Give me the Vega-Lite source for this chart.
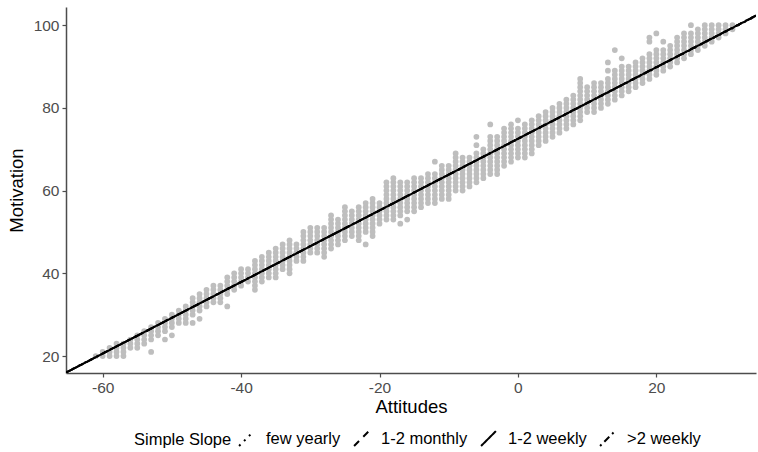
{
  "$schema": "https://vega.github.io/schema/vega-lite/v6.json",
  "width": 690,
  "height": 366,
  "autosize": {"type": "none"},
  "padding": {"left": 66, "top": 7, "right": 2, "bottom": 79},
  "background": "white",
  "config": {
    "view": {"stroke": null},
    "font": "Liberation Sans",
    "axis": {
      "grid": false,
      "domainColor": "#4D4D4D",
      "domainWidth": 1.5,
      "tickColor": "#4D4D4D",
      "tickWidth": 1.2,
      "tickSize": 4,
      "labelFont": "Liberation Sans",
      "labelFontSize": 15.5,
      "labelColor": "#4D4D4D",
      "titleFont": "Liberation Sans",
      "titleFontSize": 18.5,
      "titleFontWeight": "normal",
      "titleColor": "black"
    }
  },
  "datasets": {
    "pts": [
      {"x":-61,"y":20},
      {"x":-60,"y":20},{"x":-60,"y":21},
      {"x":-59,"y":20},{"x":-59,"y":21},{"x":-59,"y":22},
      {"x":-58,"y":20},{"x":-58,"y":21},{"x":-58,"y":22},{"x":-58,"y":23},
      {"x":-57,"y":20},{"x":-57,"y":21},{"x":-57,"y":22},{"x":-57,"y":23},
      {"x":-56,"y":22},{"x":-56,"y":23},{"x":-56,"y":24},
      {"x":-55,"y":22},{"x":-55,"y":23},{"x":-55,"y":24},{"x":-55,"y":25},
      {"x":-54,"y":23},{"x":-54,"y":24},{"x":-54,"y":25},{"x":-54,"y":26},
      {"x":-53,"y":21},{"x":-53,"y":24},{"x":-53,"y":25},{"x":-53,"y":26},{"x":-53,"y":27},
      {"x":-52,"y":25},{"x":-52,"y":26},{"x":-52,"y":27},{"x":-52,"y":28},
      {"x":-51,"y":24},{"x":-51,"y":26},{"x":-51,"y":27},{"x":-51,"y":28},{"x":-51,"y":29},
      {"x":-50,"y":25},{"x":-50,"y":27},{"x":-50,"y":28},{"x":-50,"y":29},{"x":-50,"y":30},
      {"x":-49,"y":28},{"x":-49,"y":29},{"x":-49,"y":30},{"x":-49,"y":31},
      {"x":-48,"y":28},{"x":-48,"y":29},{"x":-48,"y":30},{"x":-48,"y":31},{"x":-48,"y":32},
      {"x":-47,"y":28},{"x":-47,"y":30},{"x":-47,"y":31},{"x":-47,"y":32},{"x":-47,"y":33},{"x":-47,"y":34},
      {"x":-46,"y":29},{"x":-46,"y":31},{"x":-46,"y":32},{"x":-46,"y":33},{"x":-46,"y":34},{"x":-46,"y":35},
      {"x":-45,"y":32},{"x":-45,"y":33},{"x":-45,"y":34},{"x":-45,"y":35},{"x":-45,"y":36},
      {"x":-44,"y":33},{"x":-44,"y":34},{"x":-44,"y":35},{"x":-44,"y":36},{"x":-44,"y":37},
      {"x":-43,"y":33},{"x":-43,"y":34},{"x":-43,"y":35},{"x":-43,"y":36},{"x":-43,"y":37},
      {"x":-42,"y":32},{"x":-42,"y":35},{"x":-42,"y":36},{"x":-42,"y":37},{"x":-42,"y":38},{"x":-42,"y":39},
      {"x":-41,"y":36},{"x":-41,"y":37},{"x":-41,"y":38},{"x":-41,"y":39},{"x":-41,"y":40},
      {"x":-40,"y":37},{"x":-40,"y":38},{"x":-40,"y":39},{"x":-40,"y":40},{"x":-40,"y":41},
      {"x":-39,"y":38},{"x":-39,"y":39},{"x":-39,"y":40},{"x":-39,"y":41},
      {"x":-38,"y":36},{"x":-38,"y":37},{"x":-38,"y":38},{"x":-38,"y":39},{"x":-38,"y":40},{"x":-38,"y":41},{"x":-38,"y":42},{"x":-38,"y":43},
      {"x":-37,"y":38},{"x":-37,"y":39},{"x":-37,"y":40},{"x":-37,"y":41},{"x":-37,"y":42},{"x":-37,"y":43},{"x":-37,"y":44},
      {"x":-36,"y":39},{"x":-36,"y":40},{"x":-36,"y":41},{"x":-36,"y":42},{"x":-36,"y":43},{"x":-36,"y":44},{"x":-36,"y":45},
      {"x":-35,"y":39},{"x":-35,"y":40},{"x":-35,"y":41},{"x":-35,"y":42},{"x":-35,"y":43},{"x":-35,"y":44},{"x":-35,"y":45},{"x":-35,"y":46},
      {"x":-34,"y":41},{"x":-34,"y":42},{"x":-34,"y":43},{"x":-34,"y":44},{"x":-34,"y":45},{"x":-34,"y":46},{"x":-34,"y":47},
      {"x":-33,"y":40},{"x":-33,"y":41},{"x":-33,"y":42},{"x":-33,"y":43},{"x":-33,"y":44},{"x":-33,"y":45},{"x":-33,"y":46},{"x":-33,"y":47},{"x":-33,"y":48},
      {"x":-32,"y":43},{"x":-32,"y":44},{"x":-32,"y":45},{"x":-32,"y":46},{"x":-32,"y":47},
      {"x":-31,"y":43},{"x":-31,"y":44},{"x":-31,"y":45},{"x":-31,"y":46},{"x":-31,"y":47},{"x":-31,"y":48},{"x":-31,"y":49},{"x":-31,"y":50},
      {"x":-30,"y":45},{"x":-30,"y":46},{"x":-30,"y":47},{"x":-30,"y":48},{"x":-30,"y":49},{"x":-30,"y":50},{"x":-30,"y":51},
      {"x":-29,"y":45},{"x":-29,"y":46},{"x":-29,"y":47},{"x":-29,"y":48},{"x":-29,"y":49},{"x":-29,"y":50},{"x":-29,"y":51},
      {"x":-28,"y":44},{"x":-28,"y":45},{"x":-28,"y":46},{"x":-28,"y":47},{"x":-28,"y":48},{"x":-28,"y":49},{"x":-28,"y":50},{"x":-28,"y":51},
      {"x":-27,"y":46},{"x":-27,"y":47},{"x":-27,"y":48},{"x":-27,"y":49},{"x":-27,"y":50},{"x":-27,"y":51},{"x":-27,"y":52},{"x":-27,"y":53},{"x":-27,"y":54},
      {"x":-26,"y":47},{"x":-26,"y":48},{"x":-26,"y":49},{"x":-26,"y":50},{"x":-26,"y":51},{"x":-26,"y":52},{"x":-26,"y":53},
      {"x":-25,"y":48},{"x":-25,"y":49},{"x":-25,"y":50},{"x":-25,"y":51},{"x":-25,"y":52},{"x":-25,"y":53},{"x":-25,"y":54},{"x":-25,"y":55},{"x":-25,"y":56},
      {"x":-24,"y":49},{"x":-24,"y":50},{"x":-24,"y":51},{"x":-24,"y":52},{"x":-24,"y":53},{"x":-24,"y":54},{"x":-24,"y":55},
      {"x":-23,"y":48},{"x":-23,"y":49},{"x":-23,"y":50},{"x":-23,"y":51},{"x":-23,"y":52},{"x":-23,"y":53},{"x":-23,"y":54},{"x":-23,"y":55},{"x":-23,"y":56},
      {"x":-22,"y":47},{"x":-22,"y":50},{"x":-22,"y":51},{"x":-22,"y":52},{"x":-22,"y":53},{"x":-22,"y":54},{"x":-22,"y":55},{"x":-22,"y":56},{"x":-22,"y":57},
      {"x":-21,"y":49},{"x":-21,"y":50},{"x":-21,"y":51},{"x":-21,"y":52},{"x":-21,"y":53},{"x":-21,"y":54},{"x":-21,"y":55},{"x":-21,"y":56},{"x":-21,"y":57},{"x":-21,"y":58},
      {"x":-20,"y":52},{"x":-20,"y":53},{"x":-20,"y":54},{"x":-20,"y":55},{"x":-20,"y":56},{"x":-20,"y":57},
      {"x":-19,"y":53},{"x":-19,"y":54},{"x":-19,"y":55},{"x":-19,"y":56},{"x":-19,"y":57},{"x":-19,"y":58},{"x":-19,"y":59},{"x":-19,"y":60},{"x":-19,"y":61},{"x":-19,"y":62},
      {"x":-18,"y":53},{"x":-18,"y":54},{"x":-18,"y":55},{"x":-18,"y":56},{"x":-18,"y":57},{"x":-18,"y":58},{"x":-18,"y":59},{"x":-18,"y":60},{"x":-18,"y":61},{"x":-18,"y":62},{"x":-18,"y":63},
      {"x":-17,"y":52},{"x":-17,"y":54},{"x":-17,"y":55},{"x":-17,"y":56},{"x":-17,"y":57},{"x":-17,"y":58},{"x":-17,"y":59},{"x":-17,"y":60},{"x":-17,"y":61},{"x":-17,"y":62},
      {"x":-16,"y":53},{"x":-16,"y":55},{"x":-16,"y":56},{"x":-16,"y":57},{"x":-16,"y":58},{"x":-16,"y":59},{"x":-16,"y":60},{"x":-16,"y":61},{"x":-16,"y":62},
      {"x":-15,"y":55},{"x":-15,"y":56},{"x":-15,"y":57},{"x":-15,"y":58},{"x":-15,"y":59},{"x":-15,"y":60},{"x":-15,"y":61},{"x":-15,"y":62},{"x":-15,"y":63},
      {"x":-14,"y":56},{"x":-14,"y":57},{"x":-14,"y":58},{"x":-14,"y":59},{"x":-14,"y":60},{"x":-14,"y":61},{"x":-14,"y":62},{"x":-14,"y":63},
      {"x":-13,"y":57},{"x":-13,"y":58},{"x":-13,"y":59},{"x":-13,"y":60},{"x":-13,"y":61},{"x":-13,"y":62},{"x":-13,"y":63},{"x":-13,"y":64},
      {"x":-12,"y":57},{"x":-12,"y":58},{"x":-12,"y":59},{"x":-12,"y":60},{"x":-12,"y":61},{"x":-12,"y":62},{"x":-12,"y":63},{"x":-12,"y":64},{"x":-12,"y":67},
      {"x":-11,"y":58},{"x":-11,"y":59},{"x":-11,"y":60},{"x":-11,"y":61},{"x":-11,"y":62},{"x":-11,"y":63},{"x":-11,"y":64},{"x":-11,"y":65},{"x":-11,"y":66},
      {"x":-10,"y":58},{"x":-10,"y":59},{"x":-10,"y":60},{"x":-10,"y":61},{"x":-10,"y":62},{"x":-10,"y":63},{"x":-10,"y":64},{"x":-10,"y":65},{"x":-10,"y":66},
      {"x":-9,"y":60},{"x":-9,"y":61},{"x":-9,"y":62},{"x":-9,"y":63},{"x":-9,"y":64},{"x":-9,"y":65},{"x":-9,"y":66},{"x":-9,"y":67},{"x":-9,"y":68},{"x":-9,"y":69},
      {"x":-8,"y":60},{"x":-8,"y":61},{"x":-8,"y":62},{"x":-8,"y":63},{"x":-8,"y":64},{"x":-8,"y":65},{"x":-8,"y":66},{"x":-8,"y":67},{"x":-8,"y":68},
      {"x":-7,"y":61},{"x":-7,"y":62},{"x":-7,"y":63},{"x":-7,"y":64},{"x":-7,"y":65},{"x":-7,"y":66},{"x":-7,"y":67},{"x":-7,"y":68},
      {"x":-6,"y":62},{"x":-6,"y":63},{"x":-6,"y":64},{"x":-6,"y":65},{"x":-6,"y":66},{"x":-6,"y":67},{"x":-6,"y":68},{"x":-6,"y":69},{"x":-6,"y":71},{"x":-6,"y":73},
      {"x":-5,"y":63},{"x":-5,"y":64},{"x":-5,"y":65},{"x":-5,"y":66},{"x":-5,"y":67},{"x":-5,"y":68},{"x":-5,"y":69},{"x":-5,"y":70},
      {"x":-4,"y":64},{"x":-4,"y":65},{"x":-4,"y":66},{"x":-4,"y":67},{"x":-4,"y":68},{"x":-4,"y":69},{"x":-4,"y":70},{"x":-4,"y":71},{"x":-4,"y":72},{"x":-4,"y":73},{"x":-4,"y":76},
      {"x":-3,"y":64},{"x":-3,"y":65},{"x":-3,"y":66},{"x":-3,"y":67},{"x":-3,"y":68},{"x":-3,"y":69},{"x":-3,"y":70},{"x":-3,"y":71},{"x":-3,"y":72},{"x":-3,"y":73},
      {"x":-2,"y":66},{"x":-2,"y":67},{"x":-2,"y":68},{"x":-2,"y":69},{"x":-2,"y":70},{"x":-2,"y":71},{"x":-2,"y":72},{"x":-2,"y":73},{"x":-2,"y":74},{"x":-2,"y":75},
      {"x":-1,"y":67},{"x":-1,"y":68},{"x":-1,"y":69},{"x":-1,"y":70},{"x":-1,"y":71},{"x":-1,"y":72},{"x":-1,"y":73},{"x":-1,"y":74},{"x":-1,"y":75},{"x":-1,"y":76},
      {"x":0,"y":68},{"x":0,"y":69},{"x":0,"y":70},{"x":0,"y":71},{"x":0,"y":72},{"x":0,"y":73},{"x":0,"y":74},{"x":0,"y":75},{"x":0,"y":77},
      {"x":1,"y":68},{"x":1,"y":69},{"x":1,"y":70},{"x":1,"y":71},{"x":1,"y":72},{"x":1,"y":73},{"x":1,"y":74},{"x":1,"y":75},{"x":1,"y":76},
      {"x":2,"y":69},{"x":2,"y":70},{"x":2,"y":71},{"x":2,"y":72},{"x":2,"y":73},{"x":2,"y":74},{"x":2,"y":75},{"x":2,"y":76},{"x":2,"y":77},
      {"x":3,"y":71},{"x":3,"y":72},{"x":3,"y":73},{"x":3,"y":74},{"x":3,"y":75},{"x":3,"y":76},{"x":3,"y":77},{"x":3,"y":78},
      {"x":4,"y":72},{"x":4,"y":73},{"x":4,"y":74},{"x":4,"y":75},{"x":4,"y":76},{"x":4,"y":77},{"x":4,"y":78},{"x":4,"y":79},
      {"x":5,"y":73},{"x":5,"y":74},{"x":5,"y":75},{"x":5,"y":76},{"x":5,"y":77},{"x":5,"y":78},{"x":5,"y":79},{"x":5,"y":80},
      {"x":6,"y":74},{"x":6,"y":75},{"x":6,"y":76},{"x":6,"y":77},{"x":6,"y":78},{"x":6,"y":79},{"x":6,"y":80},{"x":6,"y":81},
      {"x":7,"y":75},{"x":7,"y":76},{"x":7,"y":77},{"x":7,"y":78},{"x":7,"y":79},{"x":7,"y":80},{"x":7,"y":81},{"x":7,"y":82},
      {"x":8,"y":76},{"x":8,"y":77},{"x":8,"y":78},{"x":8,"y":79},{"x":8,"y":80},{"x":8,"y":81},{"x":8,"y":82},{"x":8,"y":83},
      {"x":9,"y":77},{"x":9,"y":78},{"x":9,"y":79},{"x":9,"y":80},{"x":9,"y":81},{"x":9,"y":82},{"x":9,"y":83},{"x":9,"y":84},{"x":9,"y":85},{"x":9,"y":86},{"x":9,"y":87},
      {"x":10,"y":79},{"x":10,"y":80},{"x":10,"y":81},{"x":10,"y":82},{"x":10,"y":83},{"x":10,"y":84},{"x":10,"y":85},
      {"x":11,"y":79},{"x":11,"y":80},{"x":11,"y":81},{"x":11,"y":82},{"x":11,"y":83},{"x":11,"y":84},{"x":11,"y":85},{"x":11,"y":86},
      {"x":12,"y":80},{"x":12,"y":81},{"x":12,"y":82},{"x":12,"y":83},{"x":12,"y":84},{"x":12,"y":85},{"x":12,"y":86},
      {"x":13,"y":81},{"x":13,"y":82},{"x":13,"y":83},{"x":13,"y":84},{"x":13,"y":85},{"x":13,"y":86},{"x":13,"y":87},{"x":13,"y":89},{"x":13,"y":91},
      {"x":14,"y":82},{"x":14,"y":83},{"x":14,"y":84},{"x":14,"y":85},{"x":14,"y":86},{"x":14,"y":87},{"x":14,"y":88},{"x":14,"y":89},{"x":14,"y":94},
      {"x":15,"y":83},{"x":15,"y":84},{"x":15,"y":85},{"x":15,"y":86},{"x":15,"y":87},{"x":15,"y":88},{"x":15,"y":89},{"x":15,"y":90},{"x":15,"y":92},
      {"x":16,"y":84},{"x":16,"y":85},{"x":16,"y":86},{"x":16,"y":87},{"x":16,"y":88},{"x":16,"y":89},{"x":16,"y":90},
      {"x":17,"y":85},{"x":17,"y":86},{"x":17,"y":87},{"x":17,"y":88},{"x":17,"y":89},{"x":17,"y":90},{"x":17,"y":91},
      {"x":18,"y":86},{"x":18,"y":87},{"x":18,"y":88},{"x":18,"y":89},{"x":18,"y":90},{"x":18,"y":91},{"x":18,"y":92},
      {"x":19,"y":87},{"x":19,"y":88},{"x":19,"y":89},{"x":19,"y":90},{"x":19,"y":91},{"x":19,"y":92},{"x":19,"y":93},{"x":19,"y":96},{"x":19,"y":97},
      {"x":20,"y":88},{"x":20,"y":89},{"x":20,"y":90},{"x":20,"y":91},{"x":20,"y":92},{"x":20,"y":93},{"x":20,"y":94},{"x":20,"y":98},
      {"x":21,"y":89},{"x":21,"y":90},{"x":21,"y":91},{"x":21,"y":92},{"x":21,"y":93},{"x":21,"y":94},{"x":21,"y":96},
      {"x":22,"y":90},{"x":22,"y":91},{"x":22,"y":92},{"x":22,"y":93},{"x":22,"y":94},{"x":22,"y":95},
      {"x":23,"y":91},{"x":23,"y":92},{"x":23,"y":93},{"x":23,"y":94},{"x":23,"y":95},{"x":23,"y":96},{"x":23,"y":97},
      {"x":24,"y":92},{"x":24,"y":93},{"x":24,"y":94},{"x":24,"y":95},{"x":24,"y":96},{"x":24,"y":97},{"x":24,"y":98},
      {"x":25,"y":93},{"x":25,"y":94},{"x":25,"y":95},{"x":25,"y":96},{"x":25,"y":97},{"x":25,"y":98},{"x":25,"y":100},
      {"x":26,"y":94},{"x":26,"y":95},{"x":26,"y":96},{"x":26,"y":97},{"x":26,"y":98},{"x":26,"y":99},
      {"x":27,"y":95},{"x":27,"y":96},{"x":27,"y":97},{"x":27,"y":98},{"x":27,"y":99},{"x":27,"y":100},
      {"x":28,"y":96},{"x":28,"y":97},{"x":28,"y":98},{"x":28,"y":99},{"x":28,"y":100},
      {"x":29,"y":97},{"x":29,"y":98},{"x":29,"y":99},{"x":29,"y":100},
      {"x":30,"y":98},{"x":30,"y":99},{"x":30,"y":100},
      {"x":31,"y":99},{"x":31,"y":100}
    ],
    "slopes": [
      {"group":"few yearly","x":-65.3,"y":16.05},
      {"group":"few yearly","x":34.4,"y":102.2},
      {"group":"1-2 monthly","x":-65.3,"y":16.0},
      {"group":"1-2 monthly","x":34.4,"y":102.3},
      {"group":">2 weekly","x":-65.3,"y":16.0},
      {"group":">2 weekly","x":34.4,"y":102.35},
      {"group":"1-2 weekly","x":-65.3,"y":16.0},
      {"group":"1-2 weekly","x":34.4,"y":102.3}
    ]
  },
  "layer": [
    {
      "data": {"name": "pts"},
      "mark": {"type": "circle", "size": 33, "color": "#BEBEBE", "opacity": 1},
      "encoding": {
        "x": {
          "field": "x", "type": "quantitative",
          "scale": {"domain": [-65.3, 34.4], "nice": false, "zero": false},
          "axis": {"title": "Attitudes", "values": [-60, -40, -20, 0, 20], "labelExpr": "'' + datum.value", "labelPadding": 3, "titlePadding": 2}
        },
        "y": {
          "field": "y", "type": "quantitative",
          "scale": {"domain": [15.9, 104.4], "nice": false, "zero": false},
          "axis": {"title": "Motivation", "values": [20, 40, 60, 80, 100], "labelExpr": "'' + datum.value", "labelPadding": 3, "titlePadding": 7}
        }
      }
    },
    {
      "data": {"name": "slopes"},
      "mark": {"type": "line", "color": "black", "strokeWidth": 2, "clip": true},
      "encoding": {
        "x": {"field": "x", "type": "quantitative"},
        "y": {"field": "y", "type": "quantitative"},
        "detail": {"field": "group"},
        "strokeDash": {
          "field": "group", "type": "nominal",
          "scale": {
            "domain": ["few yearly", "1-2 monthly", "1-2 weekly", ">2 weekly"],
            "range": [[2, 5], [7, 6], [1, 0], [2, 4, 7, 4]]
          },
          "legend": {
            "title": "Simple Slope",
            "orient": "none",
            "legendX": 68,
            "legendY": 423,
            "direction": "horizontal",
            "titleOrient": "left",
            "titleFontSize": 16.5,
            "titleFontWeight": "normal",
            "titleColor": "black",
            "titleFont": "Liberation Sans",
            "titlePadding": 6,
            "labelFontSize": 16.5,
            "labelColor": "black",
            "labelFont": "Liberation Sans",
            "labelOffset": 11,
            "symbolType": "M-1,1L1,-1",
            "symbolSize": 220,
            "symbolStrokeWidth": 2,
            "symbolStrokeColor": "black",
            "columnPadding": 9
          }
        }
      }
    }
  ]
}
